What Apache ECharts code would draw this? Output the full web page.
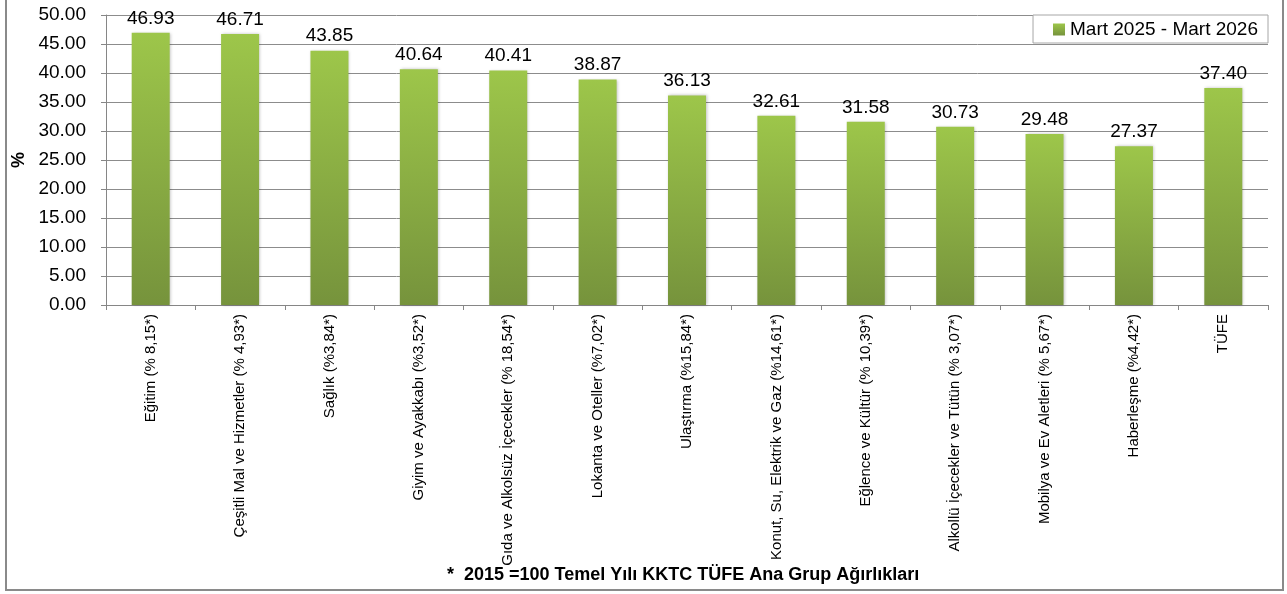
<!DOCTYPE html>
<html>
<head>
<meta charset="utf-8">
<script src="https://cdn.jsdelivr.net/npm/echarts@6/dist/echarts.min.js"></script>
<style>
    html, body { margin: 0; padding: 0; background: #fff; }
    #main { width: 1287px; height: 594px; }
</style>
</head>
<body>
<div id="main"></div>
<script>
// kategoriler (ana grup agirliklari ile)
var categories = [
    'Eğitim (% 8,15*)',
    'Çeşitli Mal ve Hizmetler (% 4,93*)',
    'Sağlık (%3,84*)',
    'Giyim ve Ayakkabı (%3,52*)',
    'Gıda ve Alkolsüz İçecekler (% 18,54*)',
    'Lokanta ve Oteller (%7,02*)',
    'Ulaştırma (%15,84*)',
    'Konut, Su, Elektrik ve Gaz (%14,61*)',
    'Eğlence ve Kültür (% 10,39*)',
    'Alkollü İçecekler ve Tütün (% 3,07*)',
    'Mobilya ve Ev Aletleri (% 5,67*)',
    'Haberleşme (%4,42*)',
    'TÜFE'
];
var values = [46.93, 46.71, 43.85, 40.64, 40.41, 38.87, 36.13, 32.61, 31.58, 30.73, 29.48, 27.37, 37.40];
var seriesName = 'Mart 2025 - Mart 2026';
var footnote = '*  2015 =100 Temel Yılı KKTC TÜFE Ana Grup Ağırlıkları';

var font = 'Liberation Sans';
var chart = echarts.init(document.getElementById('main'));

var option = {
    animation: false,
    textStyle: { fontFamily: font },
    grid: { left: 106, right: 19, top: 15, bottom: 289 },
    legend: {
        data: [{ name: seriesName, icon: 'rect' }],
        right: 19,
        top: 15,
        itemWidth: 12,
        itemHeight: 12,
        itemGap: 5,
        padding: [5, 10, 4, 20],
        backgroundColor: '#fff',
        borderColor: '#a6a6a6',
        borderWidth: 1,
        textStyle: { fontFamily: font, fontSize: 19, color: '#000' }
    },
    xAxis: {
        type: 'category',
        data: categories,
        axisLine: { lineStyle: { color: '#868686', width: 1 } },
        axisTick: { show: true, alignWithLabel: false, length: 5, lineStyle: { color: '#868686' } },
        axisLabel: {
            interval: 0,
            rotate: 90,
            margin: 9,
            fontFamily: font,
            fontSize: 15,
            color: '#000'
        }
    },
    yAxis: {
        type: 'value',
        min: 0,
        max: 50,
        interval: 5,
        name: '%',
        nameLocation: 'middle',
        nameRotate: 90,
        nameGap: 72,
        nameTextStyle: { fontFamily: font, fontSize: 18, fontWeight: 'bold', color: '#000' },
        axisLine: { show: true, lineStyle: { color: '#868686', width: 1 } },
        axisTick: { show: true, length: 5, lineStyle: { color: '#868686' } },
        axisLabel: {
            fontFamily: font,
            fontSize: 19,
            color: '#000',
            margin: 20,
            formatter: function (v) { return v.toFixed(2); }
        },
        splitLine: { lineStyle: { color: '#8c8c8c', width: 1 } }
    },
    series: [
        {
            name: seriesName,
            type: 'bar',
            data: values,
            barWidth: 38,
            itemStyle: {
                color: new echarts.graphic.LinearGradient(0, 0, 0, 1, [
                    { offset: 0, color: '#9dc64a' },
                    { offset: 1, color: '#76933c' }
                ]),
                shadowBlur: 3,
                shadowOffsetX: 1,
                shadowColor: 'rgba(0,0,0,0.25)'
            },
            label: {
                show: true,
                position: 'top',
                distance: 5,
                fontFamily: font,
                fontSize: 19,
                color: '#000',
                formatter: function (p) { return p.value.toFixed(2); }
            }
        }
    ],
    graphic: [
        {
            type: 'rect',
            shape: { x: 6, y: -4, width: 1277, height: 594 },
            style: { fill: null, stroke: '#8a8a8a', lineWidth: 2 },
            silent: true
        },
        {
            type: 'text',
            left: 447,
            top: 566,
            style: {
                text: footnote,
                fontFamily: font,
                fontSize: 18,
                fontWeight: 'bold',
                fill: '#000'
            }
        }
    ]
};
chart.setOption(option);
</script>
</body>
</html>
